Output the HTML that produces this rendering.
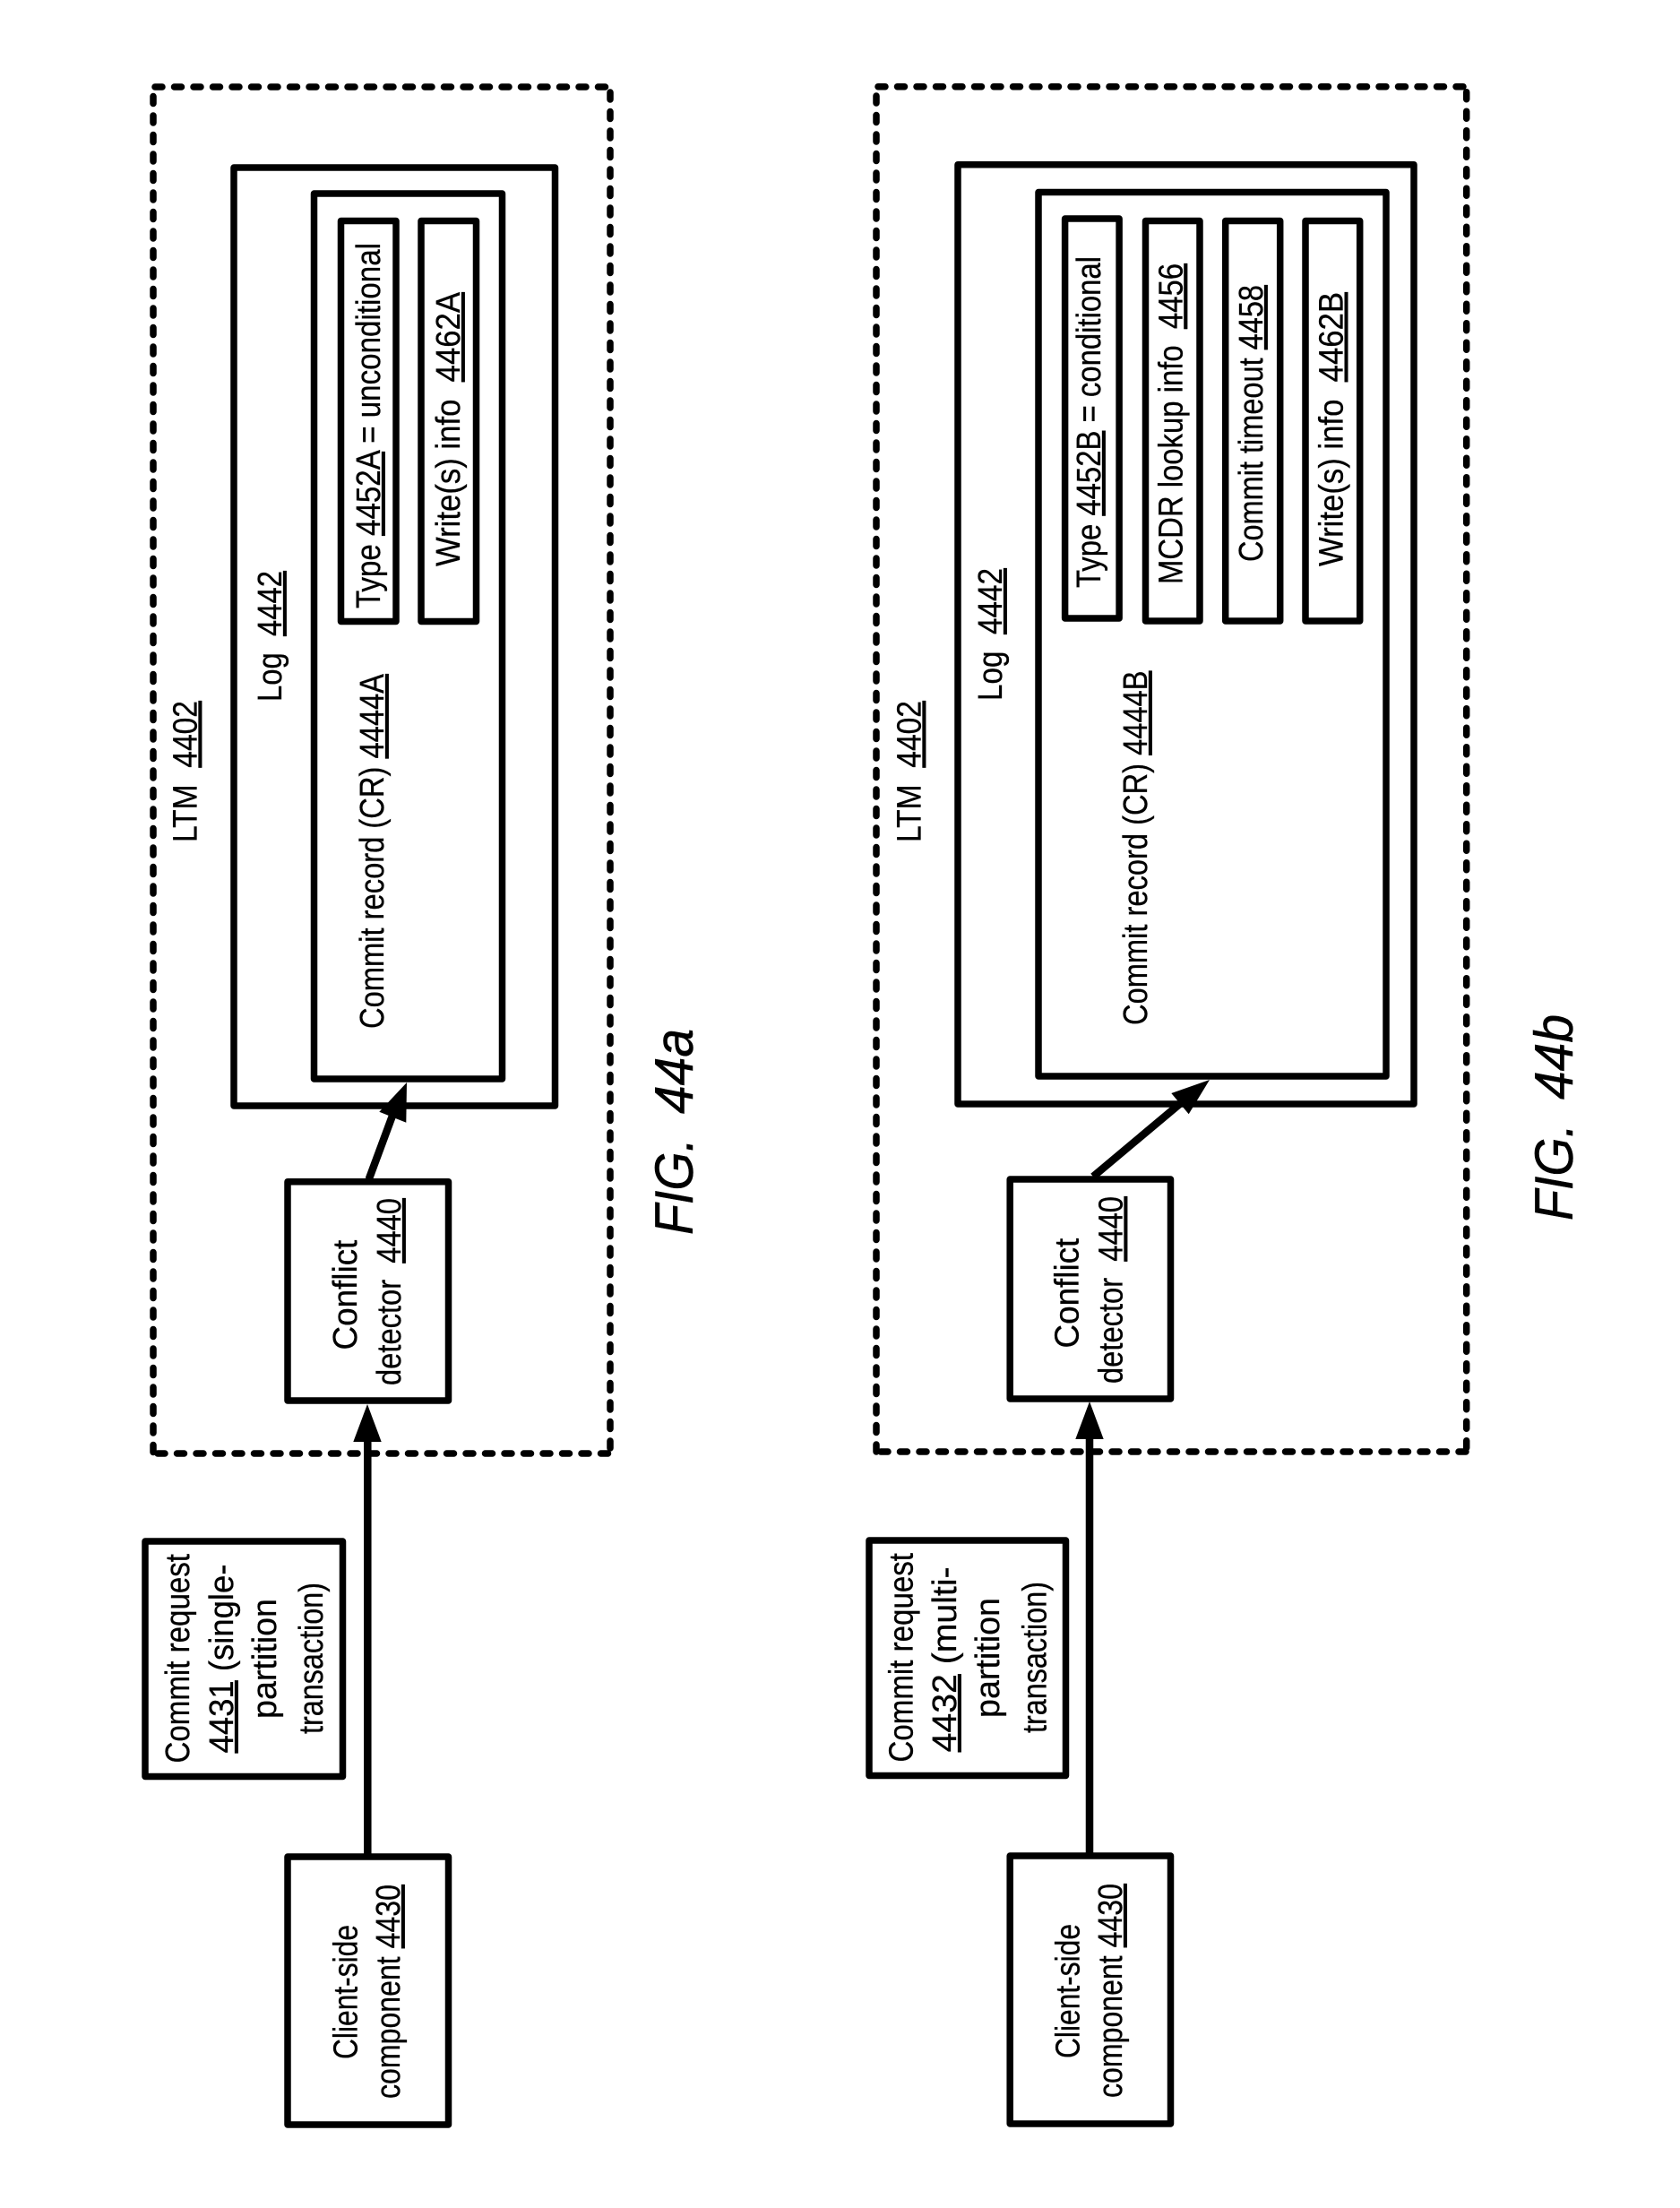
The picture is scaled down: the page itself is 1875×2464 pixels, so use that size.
<!DOCTYPE html>
<html><head><meta charset="utf-8"><title>FIG. 44a / 44b</title>
<style>
html,body{margin:0;padding:0;background:#fff;width:1875px;height:2464px;overflow:hidden}
svg{display:block}
text{font-family:"Liberation Sans",sans-serif;font-size:38px;fill:#000;stroke:#000;stroke-width:.3px}
.u{text-decoration:underline;text-decoration-thickness:4px}
.f{font-size:60px;font-style:italic;stroke-width:.5px}
rect{fill:none;stroke:#000;stroke-width:7.5px;stroke-linejoin:round}
.d{stroke:#000;stroke-width:7.5px;stroke-linecap:round;stroke-dasharray:8 13.5}
</style></head><body>
<svg width="1875" height="2464" viewBox="0 0 1875 2464" xmlns="http://www.w3.org/2000/svg">
<rect width="1875" height="2464" style="fill:#fff;stroke:none"/>

<!-- FIG 44a -->
<line class="d" x1="173" y1="97" x2="681" y2="97"/>
<line class="d" x1="171" y1="107.5" x2="171" y2="1622"/>
<line class="d" x1="176" y1="1622" x2="681" y2="1622"/>
<line class="d" x1="681" y1="103" x2="681" y2="1622"/>
<rect x="261" y="187" width="358.5" height="1047"/>
<rect x="350.5" y="216" width="210" height="988"/>
<rect x="380.5" y="246.5" width="61.5" height="447"/>
<rect x="470" y="246.5" width="61.5" height="447"/>
<rect x="321" y="1318.7" width="179.5" height="244.3"/>
<rect x="321" y="2072" width="179.5" height="299"/>
<rect x="162" y="1720" width="220.5" height="262.5"/>
<line x1="410.3" y1="2072" x2="410.3" y2="1605" stroke="#000" stroke-width="8.5"/>
<polygon points="410,1567 394.3,1609 425.7,1609"/>
<line x1="411.7" y1="1316" x2="438" y2="1245" stroke="#000" stroke-width="8.5"/>
<polygon points="454,1208 423.3,1240.7 453.3,1252.7"/>

<text transform="translate(219.5,940) rotate(-90)" textLength="158" lengthAdjust="spacingAndGlyphs">LTM&#160;&#160;<tspan class="u">4402</tspan></text>
<text transform="translate(314,783) rotate(-90)" textLength="146" lengthAdjust="spacingAndGlyphs">Log&#160;&#160;<tspan class="u">4442</tspan></text>
<text transform="translate(428,1148) rotate(-90)" textLength="396" lengthAdjust="spacingAndGlyphs">Commit record (CR) <tspan class="u">4444A</tspan></text>
<text transform="translate(424,679) rotate(-90)" textLength="408" lengthAdjust="spacingAndGlyphs">Type <tspan class="u">4452A</tspan> = unconditional</text>
<text transform="translate(513,632) rotate(-90)" textLength="306" lengthAdjust="spacingAndGlyphs">Write(s) info&#160;&#160;<tspan class="u">4462A</tspan></text>
<text transform="translate(398,1506.5) rotate(-90)" textLength="122.8" lengthAdjust="spacingAndGlyphs">Conflict</text>
<text transform="translate(447,1546) rotate(-90)" textLength="209" lengthAdjust="spacingAndGlyphs">detector&#160;&#160;<tspan class="u">4440</tspan></text>
<text transform="translate(398.3,2298) rotate(-90)" textLength="150" lengthAdjust="spacingAndGlyphs">Client-side</text>
<text transform="translate(446,2342) rotate(-90)" textLength="239" lengthAdjust="spacingAndGlyphs">component <tspan class="u">4430</tspan></text>
<text transform="translate(211,1967.5) rotate(-90)" textLength="233.5" lengthAdjust="spacingAndGlyphs">Commit request</text>
<text transform="translate(260,1956.5) rotate(-90)" textLength="211" lengthAdjust="spacingAndGlyphs"><tspan class="u">4431</tspan> (single-</text>
<text transform="translate(308,1918) rotate(-90)" textLength="134" lengthAdjust="spacingAndGlyphs">partition</text>
<text transform="translate(360,1935) rotate(-90)" textLength="169" lengthAdjust="spacingAndGlyphs">transaction)</text>
<text class="f" transform="translate(773,1378) rotate(-90)" textLength="108" lengthAdjust="spacingAndGlyphs">FIG.</text>
<text class="f" transform="translate(773,1243) rotate(-90)" textLength="95" lengthAdjust="spacingAndGlyphs">44a</text>

<!-- FIG 44b -->
<line class="d" x1="980" y1="96.7" x2="1636" y2="96.7"/>
<line class="d" x1="978" y1="107" x2="978" y2="1620"/>
<line class="d" x1="983" y1="1620" x2="1636" y2="1620"/>
<line class="d" x1="1636.7" y1="102.7" x2="1636.7" y2="1620"/>
<rect x="1069" y="183.7" width="509" height="1048.3"/>
<rect x="1159" y="214.5" width="388" height="986.5"/>
<rect x="1188.6" y="244" width="60.5" height="446"/>
<rect x="1278.5" y="246.5" width="60.5" height="446.5"/>
<rect x="1367.7" y="246.5" width="61" height="446.5"/>
<rect x="1457" y="246.5" width="60.7" height="446.5"/>
<rect x="1127.2" y="1316" width="179.3" height="245"/>
<rect x="1127.2" y="2071" width="179.3" height="299"/>
<rect x="970" y="1719" width="219.5" height="262.5"/>
<line x1="1216" y1="2071" x2="1216" y2="1602" stroke="#000" stroke-width="8.5"/>
<polygon points="1216,1564 1200.3,1606 1231.7,1606"/>
<line x1="1220" y1="1313" x2="1319" y2="1230" stroke="#000" stroke-width="8.5"/>
<polygon points="1350,1205 1307.3,1220 1326.7,1243.3"/>

<text transform="translate(1027.5,940) rotate(-90)" textLength="158" lengthAdjust="spacingAndGlyphs">LTM&#160;&#160;<tspan class="u">4402</tspan></text>
<text transform="translate(1118,782) rotate(-90)" textLength="148" lengthAdjust="spacingAndGlyphs">Log&#160;&#160;<tspan class="u">4442</tspan></text>
<text transform="translate(1280,1144) rotate(-90)" textLength="395.5" lengthAdjust="spacingAndGlyphs">Commit record (CR) <tspan class="u">4444B</tspan></text>
<text transform="translate(1228,656) rotate(-90)" textLength="370" lengthAdjust="spacingAndGlyphs">Type <tspan class="u">4452B</tspan> = conditional</text>
<text transform="translate(1319.4,652) rotate(-90)" textLength="358" lengthAdjust="spacingAndGlyphs">MCDR lookup info&#160;&#160;<tspan class="u">4456</tspan></text>
<text transform="translate(1409,627) rotate(-90)" textLength="309" lengthAdjust="spacingAndGlyphs">Commit timeout <tspan class="u">4458</tspan></text>
<text transform="translate(1498.6,632) rotate(-90)" textLength="306" lengthAdjust="spacingAndGlyphs">Write(s) info&#160;&#160;<tspan class="u">4462B</tspan></text>
<text transform="translate(1203.5,1504.5) rotate(-90)" textLength="122.8" lengthAdjust="spacingAndGlyphs">Conflict</text>
<text transform="translate(1252.5,1544) rotate(-90)" textLength="209" lengthAdjust="spacingAndGlyphs">detector&#160;&#160;<tspan class="u">4440</tspan></text>
<text transform="translate(1204.5,2297) rotate(-90)" textLength="150" lengthAdjust="spacingAndGlyphs">Client-side</text>
<text transform="translate(1252,2341) rotate(-90)" textLength="239" lengthAdjust="spacingAndGlyphs">component <tspan class="u">4430</tspan></text>
<text transform="translate(1018.5,1966.5) rotate(-90)" textLength="233.5" lengthAdjust="spacingAndGlyphs">Commit request</text>
<text transform="translate(1067,1955.4) rotate(-90)" textLength="207" lengthAdjust="spacingAndGlyphs"><tspan class="u">4432</tspan> (multi-</text>
<text transform="translate(1115,1917) rotate(-90)" textLength="134" lengthAdjust="spacingAndGlyphs">partition</text>
<text transform="translate(1167.5,1934) rotate(-90)" textLength="169" lengthAdjust="spacingAndGlyphs">transaction)</text>
<text class="f" transform="translate(1755,1362) rotate(-90)" textLength="108" lengthAdjust="spacingAndGlyphs">FIG.</text>
<text class="f" transform="translate(1755,1227) rotate(-90)" textLength="95" lengthAdjust="spacingAndGlyphs">44b</text>
</svg>
</body></html>
